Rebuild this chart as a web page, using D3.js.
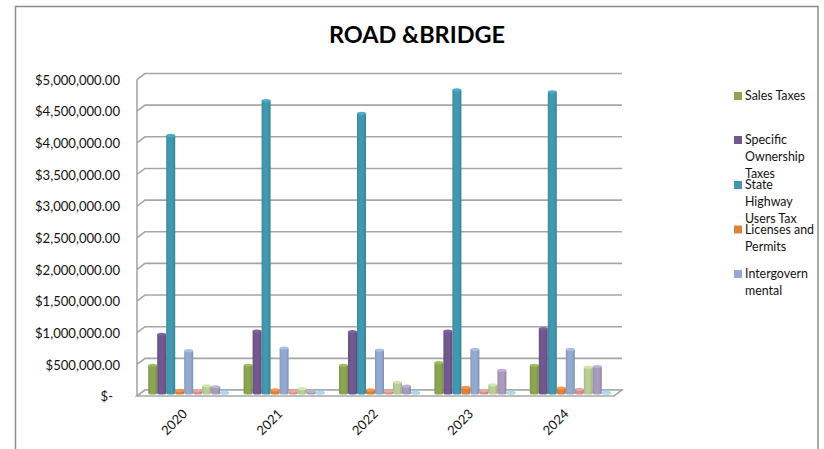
<!DOCTYPE html>
<html><head><meta charset="utf-8">
<script src="https://cdn.jsdelivr.net/npm/d3@7/dist/d3.min.js"></script>
<style>html,body{margin:0;background:#fff}svg{display:block}text{font-family:Lato,"Open Sans",sans-serif;fill:#111}</style>
</head><body><svg id="c" width="824" height="449"></svg>
<script>
const title = "ROAD &BRIDGE";
const years = ["2020","2021","2022","2023","2024"];
const yTicks = [0,500000,1000000,1500000,2000000,2500000,3000000,3500000,4000000,4500000,5000000];
const salesTaxes   = [440000,440000,440000,480000,440000];
const specificOwn  = [930000,980000,970000,980000,1020000];
const stateHighway = [4070000,4620000,4420000,4790000,4760000];
const licenses     = [40000,50000,50000,90000,80000];
const intergov     = [670000,710000,680000,690000,690000];
const series6      = [40000,30000,30000,40000,60000];
const series7      = [115000,70000,170000,130000,410000];
const series8      = [100000,30000,110000,360000,420000];
const series9      = [10000,10000,10000,10000,10000];
const seriesValues = [salesTaxes,specificOwn,stateHighway,licenses,intergov,series6,series7,series8,series9];
const colors = ["#8ba650","#71588f","#4198af","#db843d","#93a9cf","#d19392","#b9cd96","#a99bbd","#92c3d4"];
const legendLines = [["Sales Taxes"],["Specific","Ownership","Taxes"],["State","Highway","Users Tax"],["Licenses and","Permits"],["Intergovern","mental"]];
const legendY = [96,140,185,229.5,274];

const svg = d3.select("#c");
const defs = svg.append("defs");
colors.forEach((c,i)=>{
  const g = defs.append("linearGradient").attr("id","g"+i);
  g.append("stop").attr("offset","0%").attr("stop-color",d3.color(c).darker(0.3));
  g.append("stop").attr("offset","25%").attr("stop-color",c);
  g.append("stop").attr("offset","70%").attr("stop-color",c);
  g.append("stop").attr("offset","100%").attr("stop-color",d3.color(c).darker(0.45));
});

// frame (open at the bottom)
svg.append("path").attr("d","M15.5,449V6.5H818V449").attr("fill","none").attr("stroke","#8c8c8c").attr("stroke-width",1.5);

svg.append("text").attr("x",417).attr("y",43).attr("text-anchor","middle")
  .attr("font-size",23.5).attr("font-weight",700).style("fill","#000").text(title);

const back = d3.scaleLinear().domain([0,5000000]).range([390,73.5]);
const dx = 8, dy = 6;
const left = 145, right = 622;
const gridCol = "#a6a6a6";
const grid = svg.append("g").attr("fill","none").attr("stroke",gridCol).attr("stroke-width",1.6);
yTicks.forEach(t=>{
  const y = back(t);
  grid.append("path").attr("d",`M${left-dx},${y+dy}L${left},${y}H${right}`);
});
grid.append("path").attr("d",`M${left-dx},${back(5000000)+dy}V${back(0)+dy}`);
// floor
grid.append("path").attr("d",`M${left-dx},${back(0)+dy}L${left},${back(0)}H${right}L${right-dx},${back(0)+dy}Z`).attr("fill","#fff");

const fmt = d3.format(",.2f");
svg.append("g").selectAll("text").data(yTicks).join("text")
  .attr("x",d=>d===0?113:120).attr("y",d=>back(d)+dy+2).attr("text-anchor","end")
  .attr("dominant-baseline","middle").attr("font-size",13.1)
  .text(d=>d===0?"$-":"$"+fmt(d));

const xBand = d3.scaleBand().domain(years).range([141,618]);
const inner = d3.scaleBand().domain(d3.range(9)).range([7.2,88.2]);
const barY = v=>back(v)+1.5;
const rx = ()=>inner.bandwidth()/2, ry = 1.6;
seriesValues.forEach((vals,s)=>{
  const g = svg.append("g");
  years.forEach((yr,i)=>{
    const x = xBand(yr)+inner(s), w = inner.bandwidth(), y0 = back(0)+3, y1 = barY(vals[i])+ry;
    g.append("path")
      .attr("d",`M${x},${y1}V${y0}A${rx()},${ry} 0 0 0 ${x+w},${y0}V${y1}Z`)
      .attr("fill",`url(#g${s})`);
    g.append("ellipse").attr("cx",x+w/2).attr("cy",y1).attr("rx",rx()).attr("ry",ry)
      .attr("fill",d3.color(colors[s]).brighter(0.35));
  });
});

svg.append("g").selectAll("text").data(years).join("text")
  .attr("text-anchor","middle").attr("dominant-baseline","middle").attr("font-size",13)
  .attr("transform",d=>`translate(${xBand(d)+34},423) rotate(-45)`).text(d=>d);

const lg = svg.append("g");
legendLines.forEach((lines,i)=>{
  lg.append("rect").attr("x",734).attr("y",legendY[i]-4).attr("width",8).attr("height",8).attr("fill",colors[i]);
  lines.forEach((t,j)=>lg.append("text").attr("x",745).attr("y",legendY[i]+1+j*17)
    .attr("dominant-baseline","middle").attr("font-size",12.4).text(t));
});
</script></body></html>
